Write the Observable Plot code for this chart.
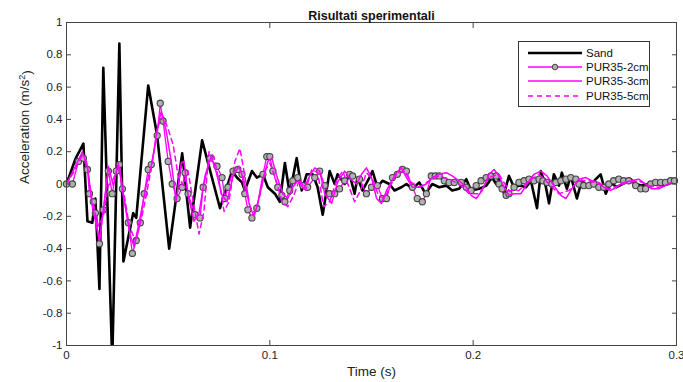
<!DOCTYPE html>
<html><head><meta charset="utf-8">
<script src="https://cdn.jsdelivr.net/npm/d3@7"></script>
<script src="https://cdn.jsdelivr.net/npm/@observablehq/plot@0.6"></script>
<style>
body{margin:0;background:#fff;font-family:"Liberation Sans",Arial,sans-serif;}
#wrap{position:relative;width:683px;height:382px;}
#legend{position:absolute;left:518px;top:41px;width:132px;height:66px;border:1px solid #333;background:#fff;box-sizing:border-box;font-size:11.5px;color:#111;}
#legend .row{position:absolute;left:0;height:14px;}
#legend svg{position:absolute;left:8px;top:0;}
#legend span{position:absolute;left:67px;top:0;line-height:14px;white-space:nowrap;}
</style></head><body>
<div id="wrap"><div id="chart"></div><div id="legend"></div></div>
<script>
const titleText = "Risultati sperimentali";
const xLabel = "Time (s)";
const yLabelBase = "Acceleration (m/s";
const seriesNames = ["Sand", "PUR35-2cm", "PUR35-3cm", "PUR35-5cm"];
const xTicks = [0, 0.1, 0.2, 0.3];
const xTickLabels = ["0", "0.1", "0.2", "0.3"];
const yTicks = [-1, -0.8, -0.6, -0.4, -0.2, 0, 0.2, 0.4, 0.6, 0.8, 1];
const yTickLabels = ["-1", "-0.8", "-0.6", "-0.4", "-0.2", "0", "0.2", "0.4", "0.6", "0.8", "1"];

const sandT = [0,0.0044,0.0083,0.0103,0.0127,0.0142,0.0162,0.0181,0.0225,0.026,
0.028,0.0328,0.0343,0.0402,0.0446,0.0505,0.0569,0.0608,0.0667,0.0755,
0.0814,0.0838,0.0863,0.0877,0.0912,0.0936,0.0966,0.099,0.1025,0.1049,
0.1074,0.1098,0.1132,0.1157,0.1181,0.1211,0.1235,0.126,0.1294,0.1319,
0.1333,0.1368,0.1392,0.1417,0.1431,0.1456,0.149,0.1505,0.1529,0.1554,
0.1588,0.1613,0.1647,0.1672,0.1701,0.1735,0.1765,0.1799,0.1833,0.1868,
0.1897,0.1931,0.1966,0.199,0.2029,0.2064,0.2093,0.2113,0.2127,0.2152,
0.2176,0.2201,0.223,0.226,0.2284,0.2314,0.2333,0.2358,0.2373,0.2397,
0.2422,0.2436,0.2461,0.248,0.251,0.2534,0.2569,0.2603,0.2627,0.2652,
0.2676,0.2706,0.275,0.2775,0.2799,0.2828,0.2863,0.2897,0.2926,0.2961,
0.2985];
const sandV = [0,0.155,0.25,-0.23,-0.24,-0.09,-0.65,0.72,-1.1,0.87,
-0.48,-0.18,-0.21,0.61,0.30,-0.40,0.19,-0.27,0.27,-0.15,
0.08,0.04,0.01,-0.04,0.08,0.04,0.06,-0.02,-0.06,-0.11,
0.13,-0.06,0.16,-0.04,0.06,0.06,-0.02,-0.19,0.08,0,
0.06,0,0.06,-0.06,0.04,-0.04,0.04,0.08,-0.02,0.02,
0,-0.04,-0.02,0,-0.03,0.01,-0.06,0,-0.02,-0.01,
-0.04,-0.03,0.03,-0.04,-0.03,-0.01,0.04,0,0.03,-0.06,
0.05,-0.02,-0.01,-0.02,0.02,-0.15,0.08,-0.02,-0.12,0.06,
-0.01,0.07,-0.03,0.05,-0.09,0.02,-0.02,0.03,0.06,-0.06,
0.01,-0.02,0.01,0.03,0,-0.01,0,0.01,-0.01,0,
0.02];

const pur2T = [0,0.0029,0.0059,0.0083,0.0103,0.0113,0.0132,0.0142,0.0162,0.0181,
0.0206,0.0225,0.0245,0.026,0.0275,0.0304,0.0324,0.0343,0.0363,0.0382,
0.0402,0.0417,0.0446,0.0461,0.0475,0.05,0.052,0.0544,0.0569,0.0583,
0.0598,0.0632,0.0657,0.0672,0.0706,0.074,0.0765,0.0779,0.0794,0.0819,
0.0843,0.0863,0.0877,0.0892,0.0912,0.0936,0.0966,0.0985,0.1,0.1015,
0.1039,0.1059,0.1074,0.1098,0.1113,0.1137,0.1162,0.1186,0.1221,0.1245,
0.127,0.1294,0.1319,0.1343,0.1368,0.1392,0.1407,0.1441,0.1475,0.15,
0.1529,0.1554,0.1574,0.1603,0.1627,0.1652,0.1672,0.1701,0.1725,0.175,
0.177,0.1794,0.1814,0.1833,0.1858,0.1882,0.1907,0.1941,0.1966,0.199,
0.2015,0.2039,0.2064,0.2088,0.2113,0.2127,0.2142,0.2162,0.2176,0.2201,
0.2225,0.225,0.2275,0.2299,0.2324,0.2343,0.2363,0.2387,0.2407,0.2431,
0.2456,0.248,0.2505,0.252,0.2544,0.2569,0.2593,0.2618,0.2642,0.2667,
0.2691,0.2716,0.274,0.2765,0.2799,0.2824,0.2848,0.2873,0.2897,0.2922,
0.2946,0.2971,0.299];
const pur2V = [0,0,0.14,0.16,0.09,-0.06,-0.11,-0.18,-0.37,-0.16,
0.08,-0.06,0.08,0.12,-0.03,-0.24,-0.43,-0.35,-0.24,-0.06,
0.09,0.12,0.30,0.50,0.39,0.14,0,-0.09,-0.02,0.07,
-0.06,-0.19,-0.21,-0.02,0.16,0.11,0.04,-0.09,-0.02,0.08,
0.09,0.06,-0.06,-0.16,-0.21,-0.15,0.06,0.17,0.17,0.08,
-0.02,-0.07,-0.11,-0.04,0.02,0.04,-0.01,-0.02,0.04,0.08,
-0.01,-0.06,-0.06,-0.03,0.02,0.06,0.05,0.03,-0.06,-0.02,
-0.01,-0.09,-0.09,0.04,0.06,0.09,0.08,-0.02,-0.09,-0.11,
-0.06,0.05,0.05,0.05,0.02,0.01,0.01,0.01,-0.02,-0.04,
-0.01,0.02,0.04,0.05,0.05,0,-0.03,-0.07,-0.06,-0.02,
0.01,0.02,0.03,0.02,0.03,0.02,0.01,0,0.01,0.02,
0.03,0.04,0.03,0,-0.01,-0.01,0,-0.02,-0.02,0,
0.02,0.03,0.02,0.02,-0.01,-0.03,-0.03,0,0.01,0.01,
0.01,0.02,0.02];

const pur3T = [0,0.0044,0.0078,0.0103,0.0127,0.0162,0.0186,0.0206,0.023,0.0255,
0.0279,0.0314,0.0333,0.0363,0.0392,0.0422,0.0446,0.0466,0.049,0.0515,
0.0539,0.0564,0.0578,0.0598,0.0627,0.0652,0.0681,0.0711,0.0735,0.0765,
0.0789,0.0819,0.0848,0.0873,0.0902,0.0922,0.0941,0.0966,0.099,0.101,
0.1034,0.1064,0.1088,0.1113,0.1137,0.1167,0.1196,0.1221,0.1245,0.127,
0.1304,0.1333,0.1368,0.1397,0.1426,0.1451,0.1475,0.15,0.1525,0.1549,
0.1578,0.1623,0.1647,0.1672,0.1701,0.1735,0.177,0.1799,0.1833,0.1868,
0.1897,0.1931,0.1966,0.199,0.2015,0.2044,0.2078,0.2103,0.2127,0.2152,
0.2176,0.2201,0.2235,0.2265,0.2299,0.2333,0.2363,0.2397,0.2431,0.2456,
0.2485,0.252,0.2554,0.2583,0.2618,0.2642,0.2676,0.2706,0.274,0.2779,
0.2814,0.2848,0.2877,0.2912,0.2946,0.2975];
const pur3V = [0,0.11,0.2,0.11,-0.14,-0.35,-0.11,0.11,-0.01,0.13,
-0.07,-0.32,-0.39,-0.2,-0.01,0.14,0.34,0.45,0.33,0.14,
-0.11,0.13,0.14,-0.07,-0.23,-0.18,0.05,0.17,0.08,-0.07,
-0.11,0.05,0.11,0.02,-0.14,-0.2,-0.12,0.02,0.14,0.16,
0.05,-0.06,-0.09,-0.02,0.02,-0.03,0.05,0.1,0.08,-0.06,
-0.12,0.01,0.08,0.03,0,0.06,0.1,0.04,-0.09,-0.12,
-0.03,0.07,0.1,0.04,-0.02,-0.02,0,0.04,0.06,0.07,
0.05,0.02,-0.02,-0.07,-0.09,-0.04,0.06,0.09,0.05,-0.02,
-0.07,-0.06,-0.06,0,0.06,0.08,0.05,-0.01,-0.07,-0.09,
-0.03,0.03,0.04,0.02,0.01,-0.02,-0.04,-0.02,0.01,0.02,
0.03,0,-0.03,-0.03,-0.01,0.01];

const pur5T = [0,0.0039,0.0074,0.0098,0.0127,0.0157,0.0181,0.0206,0.023,0.0255,
0.0279,0.0309,0.0338,0.0368,0.0397,0.0426,0.0451,0.0475,0.05,0.0525,
0.0549,0.0574,0.0598,0.0623,0.0652,0.0676,0.0701,0.0725,0.075,0.0775,
0.0799,0.0828,0.0853,0.0877,0.0902,0.0926,0.0951,0.0975,0.1,0.1029,
0.1059,0.1088,0.1118,0.1147,0.1176,0.1206,0.1235,0.1265,0.1294,0.1328,
0.1358,0.1387,0.1417,0.1446,0.1475,0.1505,0.1534,0.1564,0.1593,0.1627,
0.1662,0.1696,0.1735,0.1784,0.1833,0.1882,0.1931,0.198,0.203,0.2078,
0.2127,0.2176,0.2225,0.2275,0.2324,0.2373,0.2422,0.2471,0.252,0.2569,
0.2618,0.2667,0.2716,0.2765,0.2814,0.2863,0.2912,0.2961];
const pur5V = [0,0.08,0.17,0.14,-0.11,-0.26,-0.2,-0.01,0.03,0.11,
-0.03,-0.26,-0.35,-0.22,-0.04,0.17,0.36,0.42,0.34,0.24,
0.05,-0.01,0.08,-0.11,-0.31,-0.17,0.2,0.17,0.02,-0.17,
-0.11,0.14,0.22,0.05,-0.14,-0.18,-0.07,0.08,0.13,0.03,
-0.11,-0.14,-0.07,0.03,-0.04,0.09,0.07,-0.14,-0.11,0.02,
0.08,-0.01,-0.11,-0.04,0.07,0.03,-0.07,-0.09,-0.01,0.07,
0.08,0.01,-0.02,0.02,0.05,0.03,0,-0.06,-0.06,0.04,
0.06,-0.04,-0.04,0.02,0.06,0,-0.06,-0.04,0.02,0.02,
0,-0.03,-0.01,0.01,0.02,-0.01,-0.02,0];

const rows = (t, v) => t.map((x, i) => ({t: x, v: v[i]}));
const sand = rows(sandT, sandV);
const pur2 = rows(pur2T, pur2V);
const pur3 = rows(pur3T, pur3V);
const pur5 = rows(pur5T, pur5V);

const MAG = "#ff00ff";
const FONT = "'Liberation Sans', Arial, Helvetica, sans-serif";
const fx = d => xTickLabels[xTicks.indexOf(d)];
const fy = d => yTickLabels[yTicks.indexOf(d)];

const chart = Plot.plot({
  width: 683, height: 382,
  marginTop: 22, marginBottom: 37, marginLeft: 66, marginRight: 7,
  style: {fontFamily: FONT, fontSize: "11px", color: "#222", background: "#fff"},
  x: {domain: [0, 0.3]},
  y: {domain: [-1, 1]},
  marks: [
    Plot.line(sand, {x: "t", y: "v", stroke: "#000", strokeWidth: 2.6, clip: true}),
    Plot.line(pur2, {x: "t", y: "v", stroke: MAG, strokeWidth: 1.3}),
    Plot.dot(pur2, {x: "t", y: "v", r: 3.1, fill: "#b0b0b0", stroke: "#444", strokeWidth: 1.1}),
    Plot.line(pur3, {x: "t", y: "v", stroke: MAG, strokeWidth: 1.5}),
    Plot.line(pur5, {x: "t", y: "v", stroke: MAG, strokeWidth: 1.5, strokeDasharray: "5,4"}),
    Plot.frame({stroke: "#444"}),
    Plot.axisX(xTicks, {anchor: "bottom", tickSize: -5, tickPadding: 10, tickFormat: fx, stroke: "#444", label: null, fontSize: 11.5}),
    Plot.axisX(xTicks, {anchor: "top", tickSize: -5, tickFormat: () => "", label: null, stroke: "#444"}),
    Plot.axisY(yTicks, {anchor: "left", tickSize: -5, tickPadding: 9, tickFormat: fy, stroke: "#444", label: null, fontSize: 11.5}),
    Plot.axisY(yTicks, {anchor: "right", tickSize: -5, tickFormat: () => "", label: null, stroke: "#444"}),
    Plot.text([titleText], {frameAnchor: "top", dy: -11, fontWeight: "bold", fontSize: 12.5, fill: "#111"}),
    Plot.text([xLabel], {frameAnchor: "bottom", dy: 30, fontSize: 13.5, fill: "#222"}),
    Plot.text([yLabelBase], {frameAnchor: "left", dx: -42, rotate: -90, fontSize: 13.5, fill: "#222", className: "ylab"})
  ]
});
document.getElementById("chart").appendChild(chart);

// superscript for the y label
d3.select(chart).selectAll("text").each(function() {
  if (this.textContent === yLabelBase) {
    const t = d3.select(this);
    t.append("tspan").attr("dy", "-0.45em").attr("font-size", "9px").text("2");
    t.append("tspan").attr("dy", "0.45em").text(")");
  }
});

// legend
const legendStyles = [
  {stroke: "#000", width: 2.6, dash: null, marker: false},
  {stroke: MAG, width: 1.3, dash: null, marker: true},
  {stroke: MAG, width: 1.5, dash: null, marker: false},
  {stroke: MAG, width: 1.5, dash: "5,4", marker: false}
];
const legendRowTops = [4, 18, 32, 47];
const leg = document.getElementById("legend");
seriesNames.forEach((name, i) => {
  const s = legendStyles[i];
  const row = document.createElement("div");
  row.className = "row";
  row.style.top = legendRowTops[i] + "px";
  row.style.width = "130px";
  row.innerHTML = `<svg width="56" height="14"><line x1="1" x2="55" y1="7" y2="7" stroke="${s.stroke}" stroke-width="${s.width}" ${s.dash ? `stroke-dasharray="${s.dash}"` : ""}/>${s.marker ? `<circle cx="28" cy="7" r="2.8" fill="#b0b0b0" stroke="#444"/>` : ""}</svg><span>${name}</span>`;
  leg.appendChild(row);
});
</script>
</body></html>
